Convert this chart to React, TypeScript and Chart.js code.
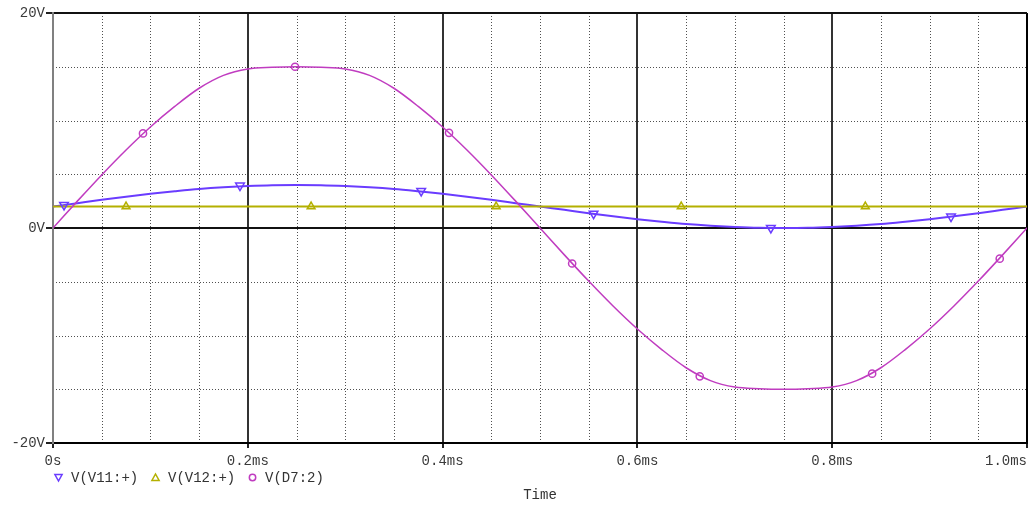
import React, { useEffect, useRef } from 'react';
import { Chart, registerables } from 'chart.js';

Chart.register(...registerables);

const FONT = "'Liberation Mono', 'Courier New', monospace";

// Time axis (ms) for the sampled traces
const timeMs = [0, 0.025, 0.05, 0.075, 0.1, 0.125, 0.15, 0.175, 0.2, 0.225, 0.25, 0.275, 0.3, 0.325, 0.35, 0.375, 0.4, 0.425, 0.45, 0.475, 0.5, 0.525, 0.55, 0.575, 0.6, 0.625, 0.65, 0.675, 0.7, 0.725, 0.75, 0.775, 0.8, 0.825, 0.85, 0.875, 0.9, 0.925, 0.95, 0.975, 1.0];

// V(V11:+)
const vV11 = [2.0, 2.31, 2.62, 2.91, 3.18, 3.41, 3.62, 3.78, 3.9, 3.98, 4.0, 3.98, 3.9, 3.78, 3.62, 3.41, 3.18, 2.91, 2.62, 2.31, 2.0, 1.69, 1.38, 1.09, 0.82, 0.59, 0.38, 0.22, 0.1, 0.02, 0.0, 0.02, 0.1, 0.22, 0.38, 0.59, 0.82, 1.09, 1.38, 1.69, 2.0];

// V(V12:+) (constant DC level)
const timeV12 = [0, 1.0];
const vV12 = [2.0, 2.0];

// V(D7:2)
const vD7 = [0, 2.5, 4.94, 7.26, 9.4, 11.31, 13.0, 14.2, 14.8, 14.95, 15.0, 14.95, 14.8, 14.2, 13.0, 11.31, 9.4, 7.26, 4.94, 2.5, 0, -2.5, -4.94, -7.26, -9.4, -11.31, -13.0, -14.2, -14.8, -14.95, -15.0, -14.95, -14.8, -14.2, -13.0, -11.31, -9.4, -7.26, -4.94, -2.5, 0];

// Trace markers (PSpice symbols)
const markT11 = [0.0113, 0.192, 0.378, 0.555, 0.737, 0.922];
const markV11 = [2.14, 3.95, 3.45, 1.33, 0.01, 1.06];
const markT12 = [0.075, 0.265, 0.455, 0.645, 0.834];
const markV12 = [2.0, 2.0, 2.0, 2.0, 2.0];
const markTD7 = [0.0924, 0.2485, 0.4066, 0.533, 0.664, 0.841, 0.972];
const markVD7 = [8.8, 15.0, 8.85, -3.3, -13.8, -13.55, -2.85];

// Axes
const xMajorTicks = [0, 0.2, 0.4, 0.6, 0.8, 1.0];
const xTickLabels = ['0s', '0.2ms', '0.4ms', '0.6ms', '0.8ms', '1.0ms     '];
const xMinorTicks = [0.05, 0.1, 0.15, 0.25, 0.3, 0.35, 0.45, 0.5, 0.55, 0.65, 0.7, 0.75, 0.85, 0.9, 0.95];
const yMajorTicks = [-20, 0, 20];
const yTickLabels = ['-20V', '0V', '20V'];
const yMinorTicks = [-15, -10, -5, 5, 10, 15];
const xAxisTitle = 'Time';

const C11 = '#6a3cff';
const C12 = '#b4b000';
const CD7 = '#c03cc0';

const pts = (xs: number[], ys: number[]) => xs.map((x, i) => ({ x, y: ys[i] }));

const minorGrid = {
  id: 'minorGrid',
  beforeDraw(chart: any) {
    const { ctx, chartArea: a, scales } = chart;
    const x = scales.x, y = scales.y;
    ctx.save();
    ctx.strokeStyle = '#505050';
    ctx.lineWidth = 1;
    ctx.setLineDash([1, 2]);
    for (const t of xMinorTicks) {
      const px = Math.round(x.getPixelForValue(t)) + 0.5;
      ctx.beginPath();
      ctx.moveTo(px, a.top);
      ctx.lineTo(px, a.bottom);
      ctx.stroke();
    }
    for (const v of yMinorTicks) {
      const py = Math.round(y.getPixelForValue(v)) + 0.5;
      ctx.beginPath();
      ctx.moveTo(a.left, py);
      ctx.lineTo(a.right, py);
      ctx.stroke();
    }
    ctx.restore();
  },
};

function drawSymbol(ctx: CanvasRenderingContext2D, style: string, rot: number, cx: number, cy: number, color: string) {
  ctx.save();
  ctx.strokeStyle = color;
  ctx.lineWidth = 1.5;
  ctx.beginPath();
  if (style === 'circle') {
    ctx.arc(cx, cy, 3.2, 0, Math.PI * 2);
  } else if (rot === 180) {
    ctx.moveTo(cx - 3.6, cy - 3);
    ctx.lineTo(cx + 3.6, cy - 3);
    ctx.lineTo(cx, cy + 3.5);
    ctx.closePath();
  } else {
    ctx.moveTo(cx - 3.6, cy + 3);
    ctx.lineTo(cx + 3.6, cy + 3);
    ctx.lineTo(cx, cy - 3.5);
    ctx.closePath();
  }
  ctx.stroke();
  ctx.restore();
}

const bottomLabels = {
  id: 'bottomLabels',
  afterDraw(chart: any) {
    const { ctx, chartArea: a } = chart;
    ctx.save();
    ctx.font = `14px ${FONT}`;
    ctx.textBaseline = 'middle';
    ctx.textAlign = 'left';
    let cx = a.left + 5.5;
    const cy = a.bottom + 34.5;
    chart.data.datasets.forEach((ds: any) => {
      if (!ds.showLine) return;
      drawSymbol(ctx, ds.pointStyle, ds.pointRotation || 0, cx, cy, ds.borderColor);
      ctx.fillStyle = '#333';
      ctx.fillText(ds.label, cx + 12.5, cy + 0.5);
      cx = cx + 12.5 + ctx.measureText(ds.label).width + 17.3;
    });
    ctx.textAlign = 'center';
    ctx.fillStyle = '#333';
    ctx.fillText(xAxisTitle, (a.left + a.right) / 2, a.bottom + 52);
    ctx.restore();
  },
};

export default function App() {
  const ref = useRef<HTMLCanvasElement>(null);
  useEffect(() => {
    document.body.style.margin = '0';
    const chart = new Chart(ref.current as HTMLCanvasElement, {
      type: 'scatter',
      data: {
        datasets: [
          { label: 'V(V11:+)', data: pts(timeMs, vV11), showLine: true, cubicInterpolationMode: 'monotone', borderColor: C11, backgroundColor: 'transparent', borderWidth: 2, pointRadius: 0, pointStyle: 'triangle', pointRotation: 180, order: 3 } as any,
          { label: 'V(V12:+)', data: pts(timeV12, vV12), showLine: true, borderColor: C12, backgroundColor: 'transparent', borderWidth: 2, pointRadius: 0, pointStyle: 'triangle', pointRotation: 0, order: 2 } as any,
          { label: 'V(D7:2)', data: pts(timeMs, vD7), showLine: true, cubicInterpolationMode: 'monotone', borderColor: CD7, backgroundColor: 'transparent', borderWidth: 1.5, pointRadius: 0, pointStyle: 'circle', order: 1 } as any,
          { label: 'm11', data: pts(markT11, markV11), showLine: false, borderColor: C11, backgroundColor: 'transparent', pointRadius: 5, pointBorderWidth: 1.5, pointStyle: 'triangle', pointRotation: 180, order: 0 } as any,
          { label: 'm12', data: pts(markT12, markV12), showLine: false, borderColor: C12, backgroundColor: 'transparent', pointRadius: 4.5, pointBorderWidth: 1.5, pointStyle: 'triangle', pointRotation: 0, order: 0 } as any,
          { label: 'mD7', data: pts(markTD7, markVD7), showLine: false, borderColor: CD7, backgroundColor: 'transparent', pointRadius: 3.6, pointBorderWidth: 1.5, pointStyle: 'circle', order: 0 } as any,
        ],
      },
      options: {
        animation: false,
        responsive: true,
        maintainAspectRatio: false,
        events: [],
        layout: { padding: { left: 0, right: 7, top: 13, bottom: 0 } },
        plugins: { legend: { display: false }, title: { display: false }, tooltip: { enabled: false } },
        scales: {
          x: {
            type: 'linear',
            min: 0,
            max: 1.0,
            afterBuildTicks: (s: any) => { s.ticks = xMajorTicks.map((v) => ({ value: v })); },
            afterFit: (s: any) => { s.height = 64; s.paddingLeft = 0; s.paddingRight = 0; },
            ticks: {
              autoSkip: false,
              maxRotation: 0,
              minRotation: 0,
              padding: 5,
              color: '#3a3a3a',
              font: { family: FONT, size: 14 },
              callback: (_v: any, i: number) => xTickLabels[i],
            },
            grid: {
              color: (c: any) => (c.index === 0 ? '#808080' : c.index === xMajorTicks.length - 1 ? '#000' : '#333'),
              lineWidth: 2,
              drawTicks: true,
              tickLength: 5,
              tickColor: '#222',
              tickWidth: 2,
            },
            border: { color: '#000', width: 2 },
          },
          y: {
            type: 'linear',
            min: -20,
            max: 20,
            afterBuildTicks: (s: any) => { s.ticks = yMajorTicks.map((v) => ({ value: v })); },
            afterFit: (s: any) => { s.width = 53; s.paddingTop = 0; s.paddingBottom = 0; },
            ticks: {
              padding: 1,
              color: '#3a3a3a',
              font: { family: FONT, size: 14 },
              callback: (_v: any, i: number) => yTickLabels[i],
            },
            grid: {
              color: '#111',
              lineWidth: 2,
              drawTicks: true,
              tickLength: 7,
              tickColor: '#222',
              tickWidth: 2,
            },
            border: { color: '#808080', width: 2 },
          },
        },
      },
      plugins: [minorGrid, bottomLabels],
    } as any);
    return () => chart.destroy();
  }, []);
  return (
    <div style={{ width: 1034, height: 507, position: 'relative' }}>
      <canvas ref={ref} />
    </div>
  );
}
